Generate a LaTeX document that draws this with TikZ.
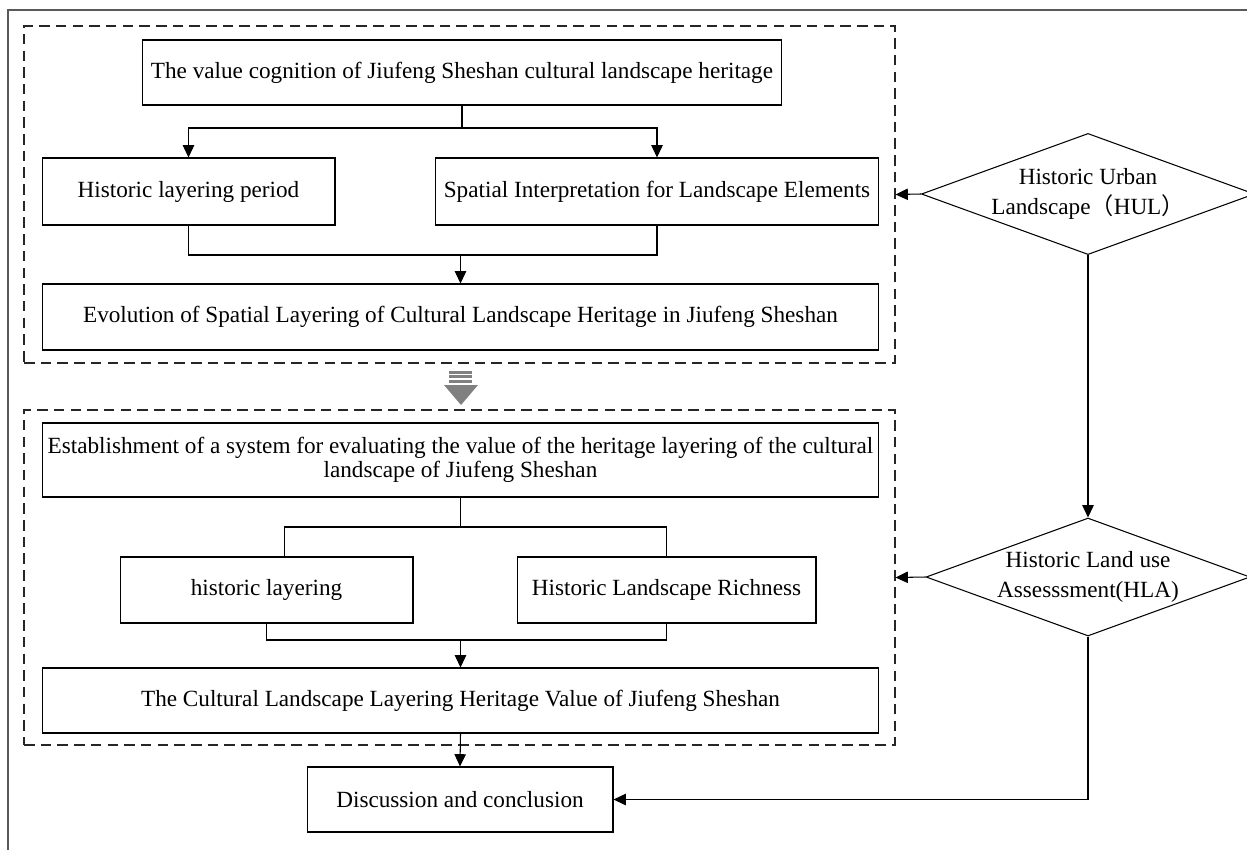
\documentclass[tikz,border=0pt]{standalone}
\usepackage{fontspec}
\setmainfont{Liberation Serif}
\newfontfamily\cjk{Noto Sans CJK SC}
\usetikzlibrary{shapes.geometric, arrows.meta, positioning, calc}

\tikzset{
  stepbox/.style={draw, line width=0.6pt, minimum height=1.32cm, align=center, inner sep=1pt},
  layerframe/.style={draw, black!85, line width=0.7pt, dash pattern=on 6pt off 3.5pt, minimum width=17.42cm},
  hulbox/.style={draw, diamond, aspect=2.75, inner sep=0pt, line width=0.6pt,
    minimum width=6.48cm, minimum height=2.36cm, align=center, font=\fontsize{13.2}{17}\selectfont},
  arr/.style={-{Triangle[length=7pt, width=6.5pt]}, line width=0.6pt},
  link/.style={line width=0.6pt}
}

\begin{document}
\begin{tikzpicture}[x=0.02cm, y=-0.02cm, font=\fontsize{13.2}{14}\selectfont]
  \useasboundingbox (0,0) rectangle (1247,849);
  % outer frame
  \draw[line width=1.2pt, black!65] (8,870) |- (1260,10);

  % layering frames
  \node[layerframe, minimum height=6.74cm] (dash1) at (459.5,194.5) {};
  \node[layerframe, minimum height=6.7cm] (dash2) at (459.5,577.5) {};

  % upper part
  \node[stepbox, minimum width=12.8cm, minimum height=1.3cm] (cog) at (462,72.5) {The value cognition of Jiufeng Sheshan cultural landscape heritage};
  \node[stepbox, minimum width=5.86cm, minimum height=1.34cm] (period) at (188.5,191.5) {Historic layering period};
  \node[stepbox, minimum width=8.88cm, minimum height=1.34cm] (spatial) at (657,191.5) {Spatial Interpretation for Landscape Elements};
  \node[stepbox, minimum width=16.74cm] (evol) at (460.5,317) {Evolution of Spatial Layering of Cultural Landscape Heritage in Jiufeng Sheshan};

  \coordinate (split1) at (462,128);
  \coordinate (join1) at (460.5,255);
  \draw[link] (cog.south) -- (split1);
  \draw[arr] (split1) -| (period.north);
  \draw[arr] (split1) -| (spatial.north);
  \draw[link] (period.south) |- (join1) -| (spatial.south);
  \draw[arr] (join1) -- (evol.north);

  % gray arrow
  \fill[black!50] (449,370.7) rectangle (472,373.9);
  \fill[black!50] (449,375.1) rectangle (472,378.3);
  \fill[black!50] (449,379.5) rectangle (472,382.6);
  \fill[black!50] (444,385) -- (478,385) -- (461,405) -- cycle;

  % lower part
  \node[stepbox, minimum width=16.74cm, minimum height=1.48cm] (estab) at (460.5,460) {Establishment of a system for evaluating the value of the heritage layering of the cultural\\ landscape of Jiufeng Sheshan};
  \node[stepbox, minimum width=5.86cm] (hlayer) at (266.5,590) {historic layering};
  \node[stepbox, minimum width=5.98cm] (rich) at (666.5,590) {Historic Landscape Richness};
  \node[stepbox, minimum width=16.74cm, minimum height=1.3cm] (value) at (460.5,700.5) {The Cultural Landscape Layering Heritage Value of Jiufeng Sheshan};
  \node[stepbox, minimum width=6.12cm, minimum height=1.3cm] (disc) at (460,799.5) {Discussion and conclusion};

  \coordinate (split2) at (460.5,527);
  \coordinate (join2) at (460.5,640);
  \draw[link] (estab.south) -- (split2);
  \draw[link] (split2) -| ($(hlayer.north)+(18,0)$);
  \draw[link] (split2) -| (rich.north);
  \draw[link] (hlayer.south) |- (join2) -| (rich.south);
  \draw[arr] (join2) -- (value.north);
  \draw[arr] (value.south) -- (disc.north);

  % methods
  \node[hulbox] (hul) at (1088,194) {Historic Urban\\ Landscape{\cjk （}HUL{\cjk ）}};
  \node[hulbox] (hla) at (1088,577) {Historic Land use\\ Assesssment(HLA)};
  \draw[arr] (hul.west) -- (dash1.east);
  \draw[arr] (hla.west) -- (dash2.east);
  \draw[arr] (hul.south) -- (hla.north);
  \draw[arr] (hla.south) |- (disc.east);
\end{tikzpicture}
\end{document}
